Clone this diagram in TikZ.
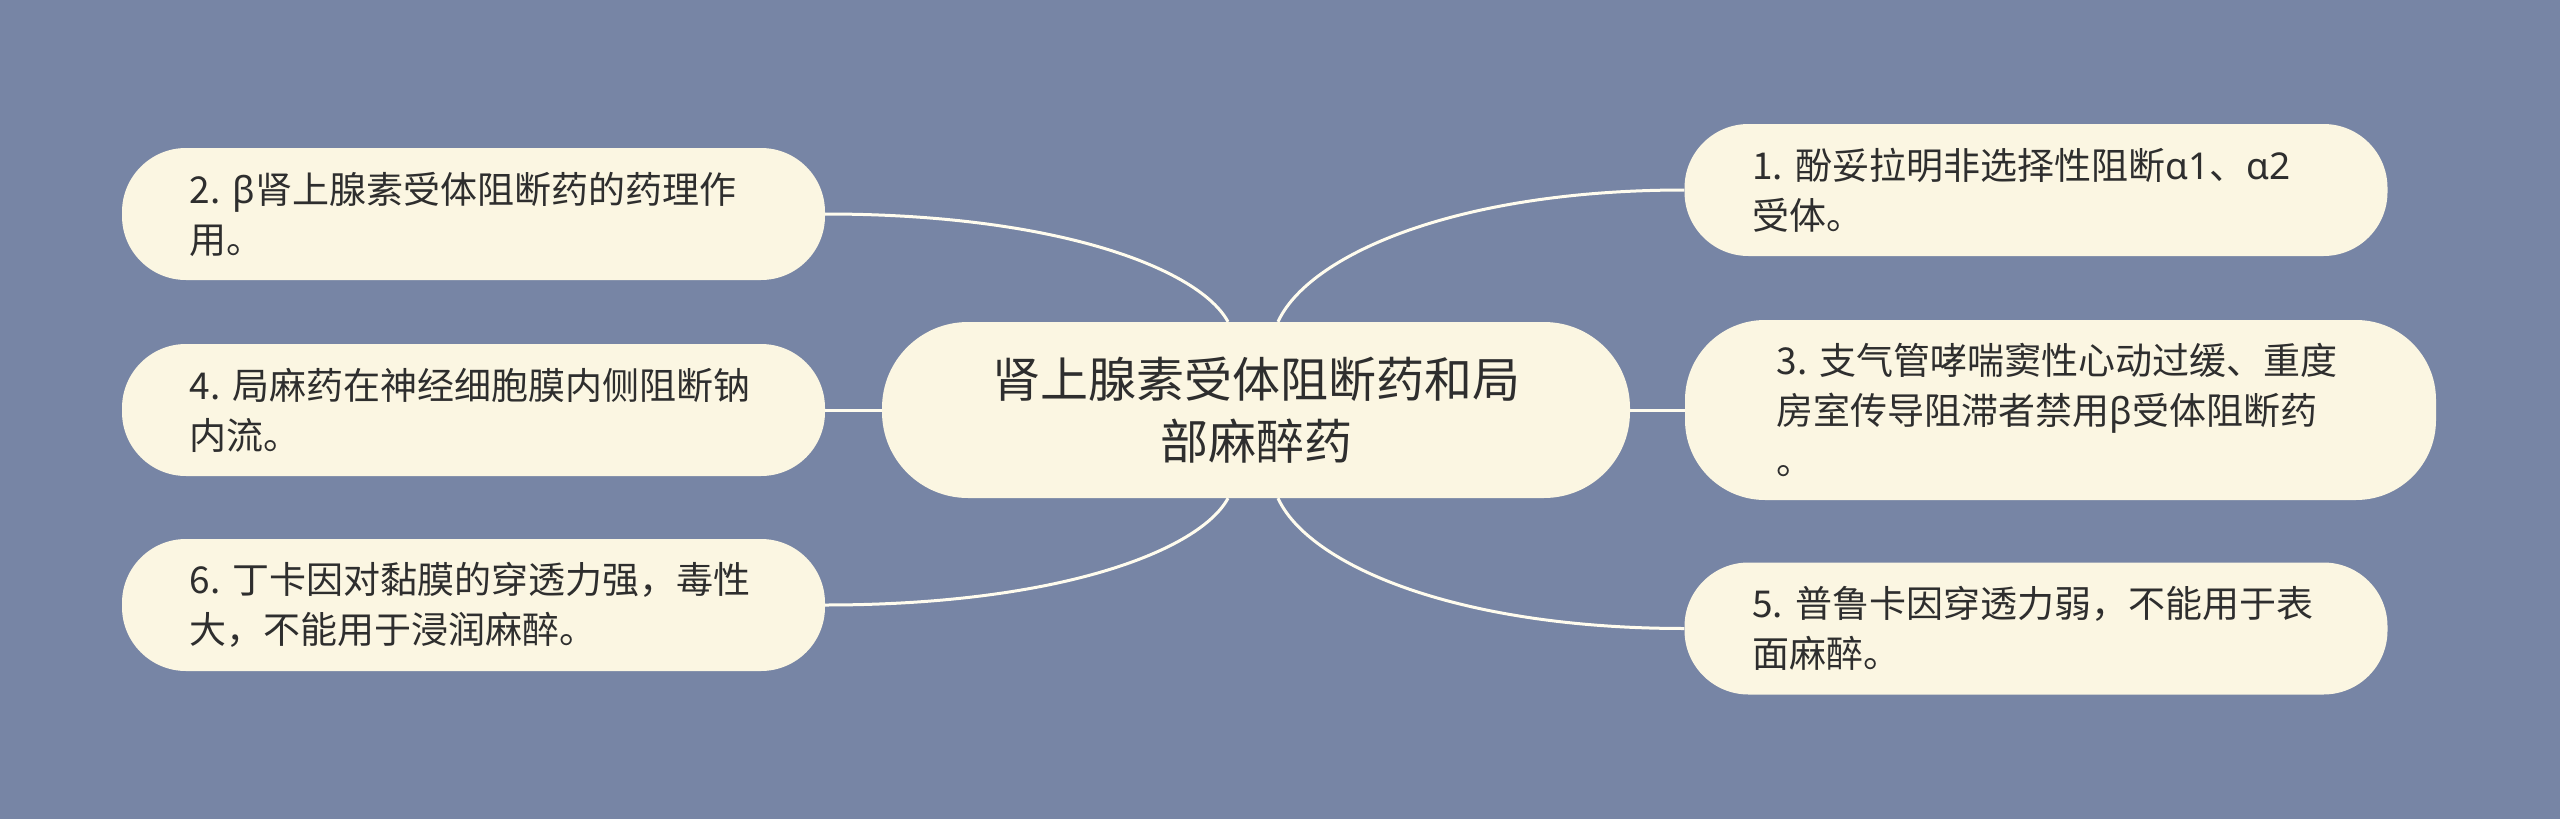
\documentclass[tikz,border=0pt]{standalone}
\usepackage{fontspec}
\setmainfont{Noto Sans CJK SC}
\newfontfamily\greekfont{Noto Sans}
\newcommand{\gk}[1]{{\greekfont #1}}
\usepackage{xcolor}
\usepackage{tikz}
\definecolor{bgblue}{HTML}{7785A5}
\definecolor{nodecream}{HTML}{FBF6E2}
\definecolor{textgray}{HTML}{2E2E2E}
\definecolor{linkcream}{HTML}{FFFCEE}
\frenchspacing

\begin{document}
\begin{tikzpicture}[x=1pt, y=-1pt,
  topic/.style={fill=nodecream, rounded corners=86pt, inner sep=0pt, minimum width=748pt, minimum height=176pt, align=center, text=textgray, font=\fontsize{48}{62}\selectfont},
  leaf/.style={fill=nodecream, rounded corners=64pt, inner sep=0pt, minimum width=703pt, minimum height=132pt, text width=568pt, align=left, text=textgray, font=\fontsize{37}{50}\selectfont},
  link/.style={draw=linkcream, line width=3pt}]
% Draw background
\fill[bgblue] (0,0) rectangle (2560,819);
\useasboundingbox (0,0) rectangle (2560,819);

% Central topic
\node[topic] (c) at (1256,410) {肾上腺素受体阻断药和局\\部麻醉药};

% Left branches
\node[leaf] (n2) at (473.5,214) {2. \gk{β}肾上腺素受体阻断药的药理作\\用。};
\node[leaf] (n4) at (473.5,410) {4. 局麻药在神经细胞膜内侧阻断钠\\内流。};
\node[leaf] (n6) at (473.5,605) {6. 丁卡因对黏膜的穿透力强，毒性\\大，不能用于浸润麻醉。};

% Right branches
\node[leaf] (n1) at (2036,190) {1. 酚妥拉明非选择性阻断\gk{α1}、\gk{α2}\\受体。};
\node[leaf, minimum width=751pt, minimum height=180pt, rounded corners=80pt] (n3) at (2060.5,410) {3. 支气管哮喘窦性心动过缓、重度\\房室传导阻滞者禁用\gk{β}受体阻断药\\。};
\node[leaf] (n5) at (2036,628.5) {5. 普鲁卡因穿透力弱，不能用于表\\面麻醉。};

% Straight links
\draw[link] (n4) -- (c);
\draw[link] (c) -- (n3);

% Curved links
\draw[link] (n2.east) .. controls +(235,0) and +(-28,-52) .. ([xshift=-28pt]c.north);
\draw[link] (n6.east) .. controls +(235,0) and +(-28,52) .. ([xshift=-28pt]c.south);
\draw[link] ([xshift=22pt]c.north) .. controls +(30,-66) and +(-230,0) .. (n1.west);
\draw[link] ([xshift=22pt]c.south) .. controls +(30,66) and +(-230,0) .. (n5.west);
\end{tikzpicture}
\end{document}
